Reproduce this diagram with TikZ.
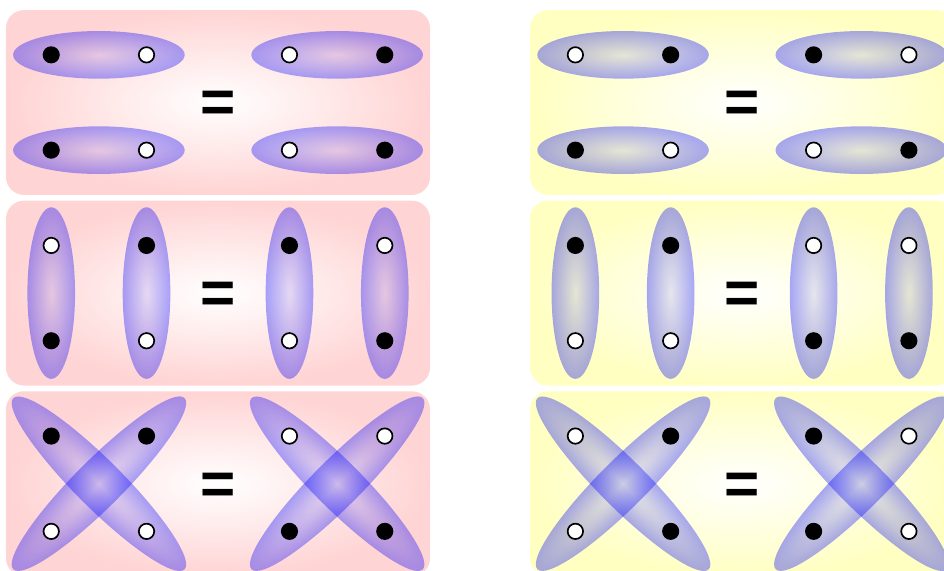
\documentclass[tikz,border=0pt]{standalone}
\usepackage{fontspec}
\newfontfamily\eqfont{Liberation Sans}
\usetikzlibrary{fadings}

\tikzfading[name=lobefade, inner color=transparent!90, outer color=transparent!65]

\begin{document}
\begin{tikzpicture}[
    panel/.style={rounded corners=0.19cm, inner color=white, outer color=#1},
    lobe/.style={fill=blue, path fading=lobefade},
    dot/.style={circle, draw=black, line width=0.5pt, minimum size=4.6pt, inner sep=0pt},
    eqsign/.style={font=\eqfont\bfseries\fontsize{18}{18}\selectfont, inner sep=0pt, yshift=-0.05cm}
  ]
  \useasboundingbox (-2.2875,1.0755) rectangle (7.618,-4.916);

  % Panels
  \foreach \r in {0,1,2} {
    \shade[panel=red!17!white] (-2.225,-2*\r-0.97) rectangle (2.225,-2*\r+0.97);
    \shade[panel=yellow!24!white] (3.275,-2*\r-0.97) rectangle (7.725,-2*\r+0.97);
  }

  % Row 1: side by side pairs
  \foreach \px in {0,5.5}
    \foreach \ex/\ey in {-1.25/0.5, -1.25/-0.5, 1.25/0.5, 1.25/-0.5}
      \fill[lobe] (\px+\ex,\ey) ellipse (0.9 and 0.25);

  % Row 2: upright pairs
  \foreach \px in {0,5.5}
    \foreach \ex in {-1.75,-0.75,0.75,1.75}
      \fill[lobe] (\px+\ex,-2) ellipse (0.25 and 0.9);

  % Row 3: crossed pairs
  \foreach \px in {0,5.5}
    \foreach \ex in {-1.25,1.25}
      \foreach \a in {45,-45} {
        \begin{scope}[transform canvas={shift={(\px+\ex,-4)}, rotate=\a}]
          \fill[lobe] (0,0) ellipse (1.27 and 0.25);
        \end{scope}
      }

  % Dots
  \foreach \x/\y/\c [count=\i] in {-1.75/0.5/black, -0.75/0.5/white, 0.75/0.5/white, 1.75/0.5/black,
      -1.75/-0.5/black, -0.75/-0.5/white, 0.75/-0.5/white, 1.75/-0.5/black}
    \node[dot, fill=\c] (L1-\i) at (\x,\y) {};
  \foreach \x/\y/\c [count=\i] in {-1.75/0.5/white, -0.75/0.5/black, 0.75/0.5/black, 1.75/0.5/white,
      -1.75/-0.5/black, -0.75/-0.5/white, 0.75/-0.5/white, 1.75/-0.5/black}
    \node[dot, fill=\c] (R1-\i) at (\x+5.5,\y) {};
  \foreach \x/\y/\c [count=\i] in {-1.75/0.5/white, -0.75/0.5/black, 0.75/0.5/black, 1.75/0.5/white,
      -1.75/-0.5/black, -0.75/-0.5/white, 0.75/-0.5/white, 1.75/-0.5/black}
    \node[dot, fill=\c] (L2-\i) at (\x,\y-2) {};
  \foreach \x/\y/\c [count=\i] in {-1.75/0.5/black, -0.75/0.5/black, 0.75/0.5/white, 1.75/0.5/white,
      -1.75/-0.5/white, -0.75/-0.5/white, 0.75/-0.5/black, 1.75/-0.5/black}
    \node[dot, fill=\c] (R2-\i) at (\x+5.5,\y-2) {};
  \foreach \x/\y/\c [count=\i] in {-1.75/0.5/black, -0.75/0.5/black, 0.75/0.5/white, 1.75/0.5/white,
      -1.75/-0.5/white, -0.75/-0.5/white, 0.75/-0.5/black, 1.75/-0.5/black}
    \node[dot, fill=\c] (L3-\i) at (\x,\y-4) {};
  \foreach \x/\y/\c [count=\i] in {-1.75/0.5/white, -0.75/0.5/black, 0.75/0.5/black, 1.75/0.5/white,
      -1.75/-0.5/white, -0.75/-0.5/black, 0.75/-0.5/black, 1.75/-0.5/white}
    \node[dot, fill=\c] (R3-\i) at (\x+5.5,\y-4) {};

  % Equal signs
  \node[eqsign] (eqL1) at (0,0) {=};
  \node[eqsign] (eqL2) at (0,-2) {=};
  \node[eqsign] (eqL3) at (0,-4) {=};
  \node[eqsign] (eqR1) at (5.5,0) {=};
  \node[eqsign] (eqR2) at (5.5,-2) {=};
  \node[eqsign] (eqR3) at (5.5,-4) {=};
\end{tikzpicture}
\end{document}
